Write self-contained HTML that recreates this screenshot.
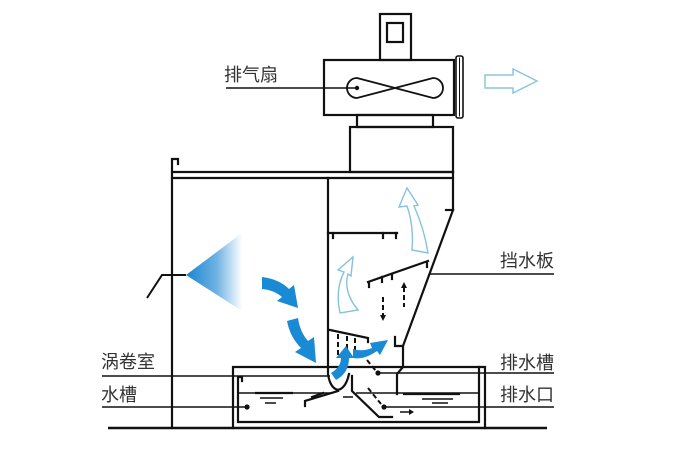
<!DOCTYPE html>
<html><head><meta charset="utf-8">
<style>
html,body{margin:0;padding:0;background:#fff;}
svg{display:block;}
text{font-family:"Liberation Sans","Noto Sans CJK SC",sans-serif;font-size:18px;fill:#333;}
</style></head>
<body>
<svg width="677" height="449" viewBox="0 0 677 449" xmlns="http://www.w3.org/2000/svg">
<defs>
<linearGradient id="cone" x1="186" y1="0" x2="242" y2="0" gradientUnits="userSpaceOnUse">
<stop offset="0" stop-color="#1a84d0"/>
<stop offset="0.55" stop-color="#6fb3e3"/>
<stop offset="1" stop-color="#ffffff"/>
</linearGradient>
</defs>
<g fill="none" stroke="#111" stroke-width="2.2" stroke-linecap="square">
<!-- top small box -->
<rect x="380" y="14" width="31" height="46"/>
<rect x="387" y="23" width="16" height="19"/>
<!-- fan box -->
<rect x="324" y="60" width="130" height="55"/>
<rect x="456" y="56" width="7" height="62" rx="2" stroke-width="1.6"/>
<line x1="459.5" y1="58" x2="459.5" y2="116" stroke-width="1"/>
<path d="M357,78 L433,98 A10,10 0 0 0 433,78 L357,98 A10,10 0 0 1 357,78 Z" stroke-width="1.8"/>
<!-- neck and lower box -->
<rect x="357" y="115" width="76" height="12"/>
<rect x="350" y="127" width="103" height="45"/>
<!-- hood double lines -->
<line x1="172" y1="172" x2="453" y2="172"/>
<line x1="172" y1="178" x2="453" y2="178"/>
<path d="M178,164 L178,159 L172,159 L172,428"/>
<!-- right wall -->
<line x1="453" y1="172" x2="453" y2="210"/>
<line x1="446" y1="210" x2="453" y2="210"/>
<line x1="453" y1="210" x2="403" y2="346"/>
<path d="M395,337 L395,346 L403,346 L403,367 L397,374 L397,394"/>
<!-- inner wall -->
<path d="M328,178 L328,374 Q330,388 338,390 Q346,388 349,374"/>
<path d="M352,376 L352,391 L379,417 L392,417"/>
<!-- baffles -->
<line x1="328" y1="233" x2="397" y2="233"/>
<line x1="333" y1="233" x2="333" y2="238"/>
<line x1="383" y1="233" x2="383" y2="238"/>
<line x1="396" y1="233" x2="396" y2="238"/>
<line x1="368" y1="282" x2="428" y2="261"/>
<line x1="369" y1="282" x2="369" y2="287"/>
<line x1="382" y1="277" x2="382" y2="282"/>
<line x1="392" y1="274" x2="392" y2="279"/>
<line x1="427" y1="262" x2="427" y2="267"/>
<!-- vortex baffle -->
<path d="M330,330 L368,338 L368,342"/>
<!-- tank -->
<path d="M233,428 L233,367 L485,367 L485,428"/>
<path d="M242,381 L242,377 L238,377 L238,422 L479,422 L479,367"/>
<!-- left plate in water -->
<path d="M305,406 L305,401 L338,391"/>
<line x1="312" y1="397" x2="323" y2="393"/>
</g>
<!-- floor -->
<line x1="108" y1="428" x2="547" y2="428" stroke="#111" stroke-width="2.6"/>
<!-- water lines -->
<g stroke="#111" stroke-width="1.5" fill="none">
<line x1="238" y1="393" x2="333" y2="393"/>
<line x1="356" y1="393" x2="479" y2="393"/>
<line x1="255" y1="393" x2="293" y2="393" stroke-width="2.2"/>
<line x1="260" y1="398" x2="283" y2="398"/>
<line x1="265" y1="403" x2="276" y2="403"/>
<line x1="403" y1="394" x2="460" y2="394" stroke-width="2.2"/>
<line x1="422" y1="399" x2="453" y2="399"/>
<line x1="432" y1="403" x2="448" y2="403"/>
<line x1="343" y1="397" x2="353" y2="397"/>
<line x1="400" y1="412" x2="410" y2="412"/>
</g>
<polygon points="409,409 414,412 409,415" fill="#111"/>
<!-- dashed elements -->
<g stroke="#111" stroke-width="2" stroke-dasharray="5,3" fill="none">
<line x1="338" y1="334" x2="338" y2="357"/>
<line x1="347" y1="336" x2="347" y2="357"/>
<line x1="355" y1="338" x2="355" y2="357"/>
<line x1="383" y1="297" x2="383" y2="316"/>
<line x1="404" y1="287" x2="404" y2="307"/>
<line x1="367" y1="360" x2="376" y2="371"/>
<line x1="368" y1="388" x2="381" y2="404"/>
</g>
<polygon points="380,315 386,315 383,321" fill="#111"/>
<polygon points="401,288 407,288 404,282" fill="#111"/>
<!-- leaders -->
<g stroke="#111" stroke-width="1.5">
<line x1="226" y1="88" x2="357" y2="88"/>
<line x1="429" y1="274" x2="554" y2="274"/>
<line x1="102" y1="376" x2="330" y2="376"/>
<line x1="102" y1="407" x2="247" y2="407"/>
<line x1="378" y1="373" x2="554" y2="373"/>
<line x1="384" y1="407" x2="554" y2="407"/>
</g>
<g fill="#111">
<circle cx="357" cy="88" r="2.2"/>
<circle cx="247" cy="407" r="2.6"/>
<circle cx="378" cy="373" r="2.6"/>
<circle cx="384" cy="407" r="2.6"/>
</g>
<!-- nozzle -->
<polyline points="147,298 162,275 186,275" fill="none" stroke="#111" stroke-width="2"/>
<polygon points="186,275 242,233 242,311" fill="url(#cone)"/>
<!-- exhaust arrow outline -->
<polygon points="485,75 513,75 513,69 537,81 513,93 513,88 485,88" fill="none" stroke="#8cc6de" stroke-width="1.5"/>
<!-- light blue outline arrows -->
<g fill="none" stroke="#86c2de" stroke-width="1.4" stroke-linejoin="miter">
<path d="M412,250 Q414,226 407,206 L399,207 L407,188 L418,205 L414,206 Q424,228 428,253 Z"/>
<path d="M340,313 Q335,290 344,272 L338,270 L353,257 L351,276 L348,274 Q343,292 358,310 Z"/>
</g>
<!-- blue solid arrows -->
<g fill="#1a8ad4">
<path d="M262,277 Q279,279 289,289 L294,285 L298,308 L277,301 L282,297 Q274,290 262,289 Z"/>
<path d="M287,321 L298,318 Q300,332 308,341 L314,337 L316,363 L295,352 L301,348 Q290,337 287,321 Z"/>
<path d="M331,373 Q341,367 341,358 L336,358 L346,346 L354,358 L349,358 Q349,373 336,380 Z"/>
<path d="M353,349 Q362,352 372,348 L370,343 L388,340 L380,355 L377,351 Q364,360 353,358 Z"/>
</g>
<!-- labels -->
<text x="224" y="81">排气扇</text>
<text x="500" y="267">挡水板</text>
<text x="101" y="368">涡卷室</text>
<text x="101" y="401">水槽</text>
<text x="500" y="369">排水槽</text>
<text x="500" y="401">排水口</text>
</svg>
</body></html>
